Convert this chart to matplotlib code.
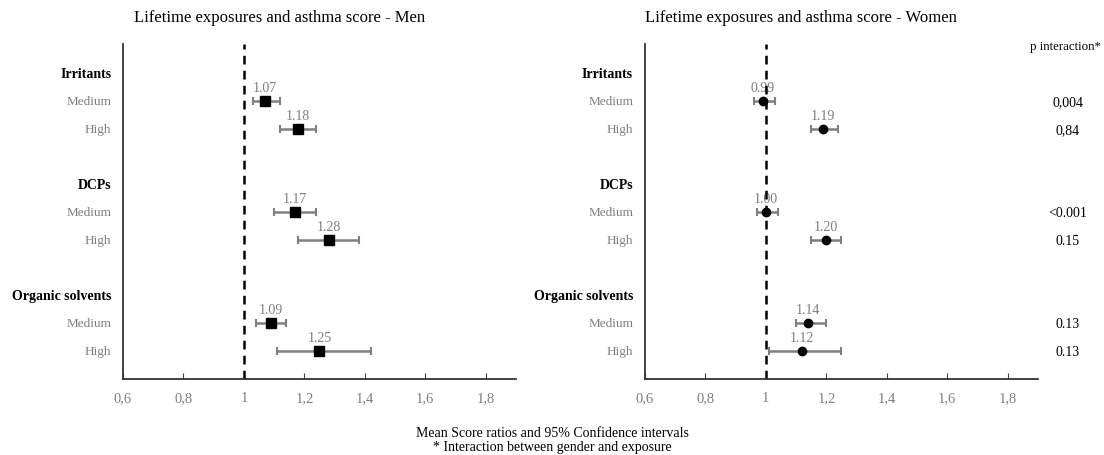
import matplotlib
matplotlib.use("Agg")
import matplotlib.pyplot as plt

plt.rcParams['font.family'] = ['Liberation Serif', 'DejaVu Serif']

# Data: mean score ratios and 95% CI
groups = ['Irritants', 'DCPs', 'Organic solvents']
levels = ['Medium', 'High']

men_est = [1.07, 1.18, 1.17, 1.28, 1.09, 1.25]
men_lo = [1.03, 1.12, 1.10, 1.18, 1.04, 1.11]
men_hi = [1.12, 1.24, 1.24, 1.38, 1.14, 1.42]

women_est = [0.99, 1.19, 1.00, 1.20, 1.14, 1.12]
women_lo = [0.96, 1.15, 0.97, 1.15, 1.10, 1.01]
women_hi = [1.03, 1.24, 1.04, 1.25, 1.20, 1.25]

p_interaction = ['0,004', '0,84', '<0.001', '0.15', '0.13', '0.13']

xticks = [0.6, 0.8, 1.0, 1.2, 1.4, 1.6, 1.8]
xtick_labels = ['0,6', '0,8', '1', '1,2', '1,4', '1,6', '1,8']

GRAY = '#7f7f7f'

fig = plt.figure(figsize=(11.04, 4.56), dpi=100)
ax_m = fig.add_axes([0.1114, 0.1667, 0.356, 0.7346])
ax_w = fig.add_axes([0.5842, 0.1667, 0.356, 0.7346])

# row positions: header, medium, high, blank ...
header_pos = [0, 4, 8]
row_pos = [1, 2, 5, 6, 9, 10]


def draw_panel(ax, est, lo, hi, marker, ms):
    ax.set_xlim(0.6, 1.9)
    ax.set_ylim(11, -1.07)
    ax.axvline(1.0, color='black', linestyle=(0, (3.5, 2.5)), linewidth=1.8, zorder=2)
    for y, e, l, h in zip(row_pos, est, lo, hi):
        ax.errorbar(e, y, xerr=[[e - l], [h - e]], fmt='none', ecolor=GRAY,
                    elinewidth=1.8, capsize=3, capthick=1.5, zorder=2.5)
        ax.plot(e, y, marker=marker, color='black', markersize=ms,
                linestyle='none', zorder=3)
        ax.text(e, y - 0.5, f'{e:.2f}', ha='center', va='center',
                color=GRAY, fontsize=10, zorder=1.5)
    ax.set_xticks(xticks)
    ax.set_xticklabels(xtick_labels, color=GRAY, fontsize=10.5)
    ax.tick_params(axis='x', direction='in', length=4, color='#444444', pad=9)
    ax.set_yticks([])
    for s in ['top', 'right']:
        ax.spines[s].set_visible(False)
    ax.spines['left'].set_color('#333333')
    ax.spines['bottom'].set_color('#333333')
    ax.spines['left'].set_linewidth(1.3)
    ax.spines['bottom'].set_linewidth(1.3)
    for g, y in zip(groups, header_pos):
        ax.text(-0.03, y, g, transform=ax.get_yaxis_transform(), ha='right',
                va='center', fontsize=10, fontweight='bold', color='black')
    for i, y in enumerate(row_pos):
        ax.text(-0.03, y, levels[i % 2], transform=ax.get_yaxis_transform(),
                ha='right', va='center', fontsize=9.5, color=GRAY)


draw_panel(ax_m, men_est, men_lo, men_hi, 's', 7)
draw_panel(ax_w, women_est, women_lo, women_hi, 'o', 6)

# p interaction column
fig.text(1030 / 1104, 1 - 47 / 456, 'p interaction*', ha='left', va='center',
         fontsize=9.3, color='black')
for y, p in zip(row_pos, p_interaction):
    ax_w.text(1.076, y, p, transform=ax_w.get_yaxis_transform(),
              ha='center', va='center', fontsize=10, color='black', clip_on=False)

fig.text(134 / 1104, 1 - 18 / 456, 'Lifetime exposures and asthma score - Men',
         ha='left', va='center', fontsize=12)
fig.text(645 / 1104, 1 - 18 / 456, 'Lifetime exposures and asthma score - Women',
         ha='left', va='center', fontsize=12)

fig.text(0.5, 1 - 434 / 456, 'Mean Score ratios and 95% Confidence intervals',
         ha='center', va='center', fontsize=10)
fig.text(0.5, 1 - 448 / 456, '* Interaction between gender and exposure',
         ha='center', va='center', fontsize=10)

fig.savefig('out.png', dpi=100)
